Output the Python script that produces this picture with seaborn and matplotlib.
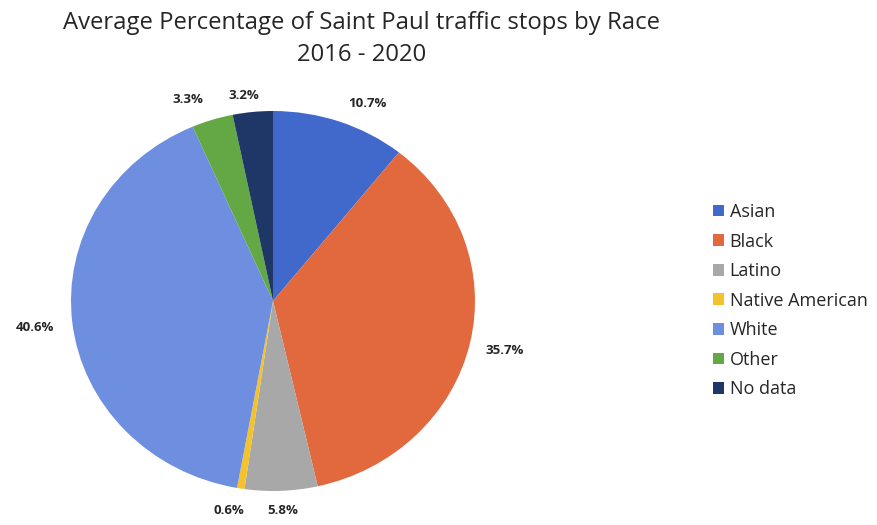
import matplotlib
matplotlib.use("Agg")
import matplotlib.pyplot as plt
import seaborn as sns

sns.set_theme(style="white")
plt.rcParams['font.family'] = ['Open Sans', 'DejaVu Sans']

categories = ["Asian", "Black", "Latino", "Native American", "White", "Other", "No data"]
values = [10.7, 35.7, 5.8, 0.6, 40.6, 3.3, 3.2]
colors = ["#4169CC", "#E2683E", "#A8A8A8", "#F4C22B", "#6E8FE0", "#63A845", "#1E3766"]
label_pos = [(0.465, 1.042), (1.149, -0.258), (0.050, -1.105), (-0.218, -1.100),
             (-1.178, -0.142), (-0.421, 1.058), (-0.144, 1.084)]

fig = plt.figure(figsize=(8.78, 5.25), dpi=100)
W, H = 878, 525
cx, cy, rx, ry = 273, 301, 202, 190
ax = fig.add_axes([(cx - rx) / W, (H - cy - ry) / H, 2 * rx / W, 2 * ry / H])

wedges, texts = ax.pie(values, colors=colors, startangle=90, counterclock=False,
                       wedgeprops=dict(linewidth=0))
ax.set_aspect("auto")
ax.set_xlim(-1, 1)
ax.set_ylim(-1, 1)
for v, (x, y) in zip(values, label_pos):
    ax.text(x, y, f"{v:.1f}%", ha="center", va="center", fontsize=9.5,
            fontweight="bold", color="#262626", clip_on=False)

fig.text(362 / W, 1 - 23 / H, "Average Percentage of Saint Paul traffic stops by Race",
         ha="center", va="center", fontsize=17.2, color="#262626")
fig.text(362 / W, 1 - 55 / H, "2016 - 2020", ha="center", va="center", fontsize=17.2,
         color="#262626")

leg = fig.legend(wedges, categories, loc="upper left", bbox_to_anchor=(713 / W, 1 - 203 / H),
                 frameon=False, fontsize=13, handlelength=0.62, handleheight=0.62,
                 handletextpad=0.3, labelspacing=0.64, borderpad=0, borderaxespad=0)
for t in leg.get_texts():
    t.set_color("#262626")

fig.savefig("out.png", dpi=100)
